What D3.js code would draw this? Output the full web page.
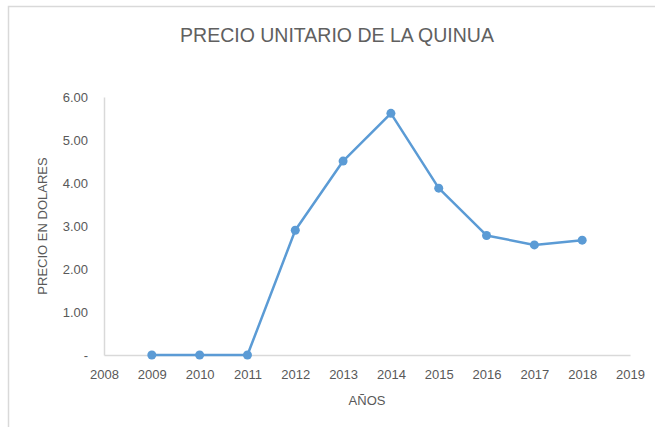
<!DOCTYPE html>
<html>
<head>
<meta charset="utf-8">
<script src="https://cdn.jsdelivr.net/npm/d3@7"></script>
<style>
  body { margin: 0; background: #fff; }
  text { font-family: "Liberation Sans", Arial, sans-serif; fill: #595959; }
</style>
</head>
<body>
<div id="chart"></div>
<script>
// data
var years = [2009, 2010, 2011, 2012, 2013, 2014, 2015, 2016, 2017, 2018];
var prices = [0, 0, 0, 2.90, 4.51, 5.62, 3.88, 2.78, 2.56, 2.67];
var xTicks = [2008, 2009, 2010, 2011, 2012, 2013, 2014, 2015, 2016, 2017, 2018, 2019];
var yTicks = [0, 1, 2, 3, 4, 5, 6];

var data = years.map(function(y, i) { return {year: y, value: prices[i]} });

// set the dimensions and margins of the graph
var W = 655, H = 427;
var margin = {top: 97, right: 25, bottom: 72, left: 104},
    width = W - margin.left - margin.right,
    height = H - margin.top - margin.bottom;

var svg = d3.select("#chart")
  .append("svg")
    .attr("width", W)
    .attr("height", H);

// chart frame (only left and top edges visible)
svg.append("rect")
  .attr("x", 8.5).attr("y", 6.5)
  .attr("width", W + 10).attr("height", H + 10)
  .attr("fill", "none")
  .attr("stroke", "#d9d9d9")
  .attr("stroke-width", 1.5);

var g = svg.append("g")
  .attr("transform", "translate(" + margin.left + "," + margin.top + ")");

var x = d3.scaleLinear()
  .domain([2008, 2019])
  .range([0, width]);
var y = d3.scaleLinear()
  .domain([0, 6])
  .range([height, 0]);

// X axis
var xAxis = g.append("g")
  .attr("transform", "translate(0," + height + ")")
  .call(d3.axisBottom(x).tickValues(xTicks).tickFormat(d3.format("d")).tickSize(0).tickPadding(15));
xAxis.select(".domain").attr("stroke", "#d9d9d9").attr("stroke-width", 1.5);
xAxis.selectAll("text").style("font-size", "13px").attr("fill", "#595959");

// Y axis
var yAxis = g.append("g")
  .call(d3.axisLeft(y).tickValues(yTicks)
    .tickFormat(function(d) { return d === 0 ? "-" : d3.format(".2f")(d) })
    .tickSize(0).tickPadding(16));
yAxis.select(".domain").attr("stroke", "#d9d9d9").attr("stroke-width", 1.5);
yAxis.selectAll("text").style("font-size", "13px").attr("fill", "#595959");

// the line
g.append("path")
  .datum(data)
  .attr("fill", "none")
  .attr("stroke", "#5b9bd5")
  .attr("stroke-width", 2.5)
  .attr("stroke-linejoin", "round")
  .attr("d", d3.line()
    .x(function(d) { return x(d.year) })
    .y(function(d) { return y(d.value) })
  );

// the points
g.append("g")
  .selectAll("circle")
  .data(data)
  .enter()
  .append("circle")
    .attr("cx", function(d) { return x(d.year) })
    .attr("cy", function(d) { return y(d.value) })
    .attr("r", 4.5)
    .attr("fill", "#5b9bd5");

// title
svg.append("text")
  .attr("x", 337).attr("y", 42)
  .attr("text-anchor", "middle")
  .style("font-size", "19.5px")
  .style("fill", "#606060")
  .text("PRECIO UNITARIO DE LA QUINUA");

// axis titles
svg.append("text")
  .attr("x", 367).attr("y", 405)
  .attr("text-anchor", "middle")
  .style("font-size", "13px")
  .text("AÑOS");

svg.append("text")
  .attr("transform", "translate(47,226) rotate(-90)")
  .attr("text-anchor", "middle")
  .style("font-size", "13px")
  .text("PRECIO EN DOLARES");
</script>
</body>
</html>
